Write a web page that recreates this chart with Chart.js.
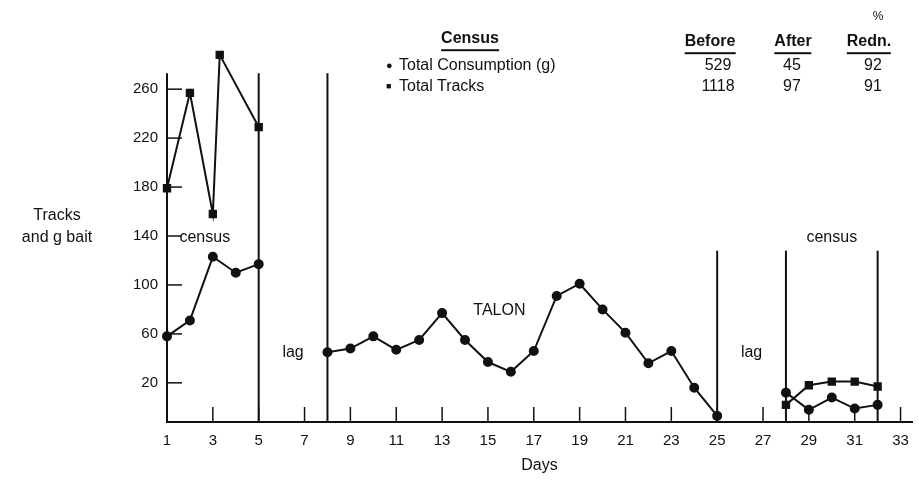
<!DOCTYPE html>
<html>
<head>
<meta charset="utf-8">
<script src="https://cdn.jsdelivr.net/npm/chart.js@4.4.0/dist/chart.umd.min.js"></script>
<style>
  html, body { margin: 0; padding: 0; background: #fff; }
  #wrap { position: relative; width: 919px; height: 481px; font-family: "Liberation Sans", Arial, sans-serif; color: #111; }
  #chart { position: absolute; left: 0; top: 0; }
  .t { position: absolute; white-space: nowrap; font-size: 16px; line-height: 18px; transform: translate(-50%, -50%); }
  .l { transform: translate(0, -50%); }
  .b { font-weight: bold; border-bottom: 2px solid #111; padding-bottom: 2px; transform: translate(-50%, -40%); }
</style>
</head>
<body>
<div id="wrap">
  <canvas id="chart" width="919" height="481"></canvas>
  <div id="table"></div>
</div>
<script>
// census period 1 (days 1-5)
const census1Days = [1, 2, 3, 4, 5];
const census1Consumption = [58, 71, 123, 110, 117];
const census1TrackDays = [1, 2, 3, 3.3, 5];
const census1Tracks = [179, 257, 158, 288, 229];

// TALON period (days 8-25)
const talonDays = [8, 9, 10, 11, 12, 13, 14, 15, 16, 17, 18, 19, 20, 21, 22, 23, 24, 25];
const talonConsumption = [45, 48, 58, 47, 55, 77, 55, 37, 29, 46, 91, 101, 80, 61, 36, 46, 16, -7];

// census period 2 (days 28-32)
const census2Days = [28, 29, 30, 31, 32];
const census2Consumption = [12, -2, 8, -1, 2];
const census2Tracks = [2, 18, 21, 21, 17];

// vertical divider lines
const dividerDays = [1, 5, 8, 25, 28, 32];
const dividerTops = [273, 273, 273, 128, 128, 128];

const xTicks = [1, 3, 5, 7, 9, 11, 13, 15, 17, 19, 21, 23, 25, 27, 29, 31, 33];
const yTicks = [20, 60, 100, 140, 180, 220, 260];

// labels inside the plot
const noteText = ['census', 'lag', 'TALON', 'lag', 'census'];
const noteX = [2.65, 6.5, 15.5, 26.5, 30];
const noteY = [139, 45, 79, 45, 139];

// summary table
const tableRows = ['Total Consumption (g)', 'Total Tracks'];
const tableMarks = ['\u25CF', '\u25A0'];
const tableBefore = [529, 1118];
const tableAfter = [45, 97];
const tableRedn = [92, 91];

const ink = '#111';
const yMin = -12;

function pts(xs, ys) {
    return xs.map((v, i) => ({x: v, y: ys[i]}));
}

function series(xs, ys, style) {
    return {
        data: pts(xs, ys),
        borderColor: ink,
        backgroundColor: ink,
        borderWidth: 2,
        pointStyle: style,
        pointRadius: style === 'rect' ? 4.5 : 4,
        tension: 0,
        clip: false
    };
}

const datasets = [
    series(census1Days, census1Consumption, 'circle'),
    series(census1TrackDays, census1Tracks, 'rect'),
    series(talonDays, talonConsumption, 'circle'),
    series(census2Days, census2Consumption, 'circle'),
    series(census2Days, census2Tracks, 'rect')
];
dividerDays.forEach((d, i) => {
    datasets.push({
        data: [{x: d, y: yMin}, {x: d, y: dividerTops[i]}],
        borderColor: ink,
        borderWidth: 2,
        pointRadius: 0,
        clip: false
    });
});

const extras = {
    id: 'extras',
    afterDatasetsDraw(chart) {
        const {ctx, scales: {x, y}} = chart;
        ctx.save();
        ctx.strokeStyle = ink;
        ctx.lineWidth = 1.5;
        y.ticks.forEach(t => {
            const py = y.getPixelForValue(t.value);
            ctx.beginPath(); ctx.moveTo(x.left, py); ctx.lineTo(x.left + 15, py); ctx.stroke();
        });
        x.ticks.forEach(t => {
            const px = x.getPixelForValue(t.value);
            ctx.beginPath(); ctx.moveTo(px, y.bottom); ctx.lineTo(px, y.bottom - 15); ctx.stroke();
        });
        ctx.fillStyle = ink;
        ctx.font = '16px "Liberation Sans", Arial, sans-serif';
        ctx.textAlign = 'center';
        ctx.textBaseline = 'middle';
        noteText.forEach((s, i) => {
            ctx.fillText(s, x.getPixelForValue(noteX[i]), y.getPixelForValue(noteY[i]));
        });
        ctx.restore();
    }
};

const ctx = document.getElementById('chart').getContext('2d');
const chart = new Chart(ctx, {
    type: 'line',
    data: {datasets: datasets},
    options: {
        responsive: false,
        animation: false,
        layout: {padding: {left: 107, top: 50, right: 4, bottom: 0}},
        plugins: {legend: {display: false}, tooltip: {enabled: false}},
        scales: {
            x: {
                type: 'linear',
                min: 1,
                max: 33.5,
                afterBuildTicks: s => { s.ticks = xTicks.map(v => ({value: v})); },
                afterFit: s => { s.height = 59; },
                grid: {drawOnChartArea: false, drawTicks: false},
                border: {display: true, color: ink, width: 2},
                ticks: {color: ink, padding: 10, font: {size: 15, family: '"Liberation Sans", Arial, sans-serif'}},
                title: {display: true, text: 'Days', color: ink, padding: {top: 0, bottom: 6},
                        font: {size: 16, family: '"Liberation Sans", Arial, sans-serif'}}
            },
            y: {
                type: 'linear',
                min: yMin,
                max: 292,
                afterBuildTicks: s => { s.ticks = yTicks.map(v => ({value: v})); },
                afterFit: s => { s.width = 60; },
                grid: {drawOnChartArea: false, drawTicks: false},
                border: {display: false},
                ticks: {color: ink, padding: 9, font: {size: 15, family: '"Liberation Sans", Arial, sans-serif'}}
            }
        }
    },
    plugins: [extras]
});

// table + y title as html text
const tbl = document.getElementById('table');
function put(text, x, y, cls) {
    const d = document.createElement('div');
    d.className = 't ' + (cls || '');
    d.style.left = x + 'px';
    d.style.top = y + 'px';
    d.textContent = text;
    tbl.appendChild(d);
    return d;
}
put('Tracks', 57, 215);
put('and g bait', 57, 237);
put('Census', 470, 38, 'b');
put('%', 878, 16).style.fontSize = '12px';
put('Before', 710, 41, 'b');
put('After', 793, 41, 'b');
put('Redn.', 869, 41, 'b');
const rowY = [65, 86];
tableRows.forEach((r, i) => {
    put(tableMarks[i], 386, rowY[i], 'l').style.fontSize = i === 0 ? '11px' : '9px';
    put(r, 399, rowY[i], 'l');
    put(String(tableBefore[i]), 718, rowY[i]);
    put(String(tableAfter[i]), 792, rowY[i]);
    put(String(tableRedn[i]), 873, rowY[i]);
});
</script>
</body>
</html>
